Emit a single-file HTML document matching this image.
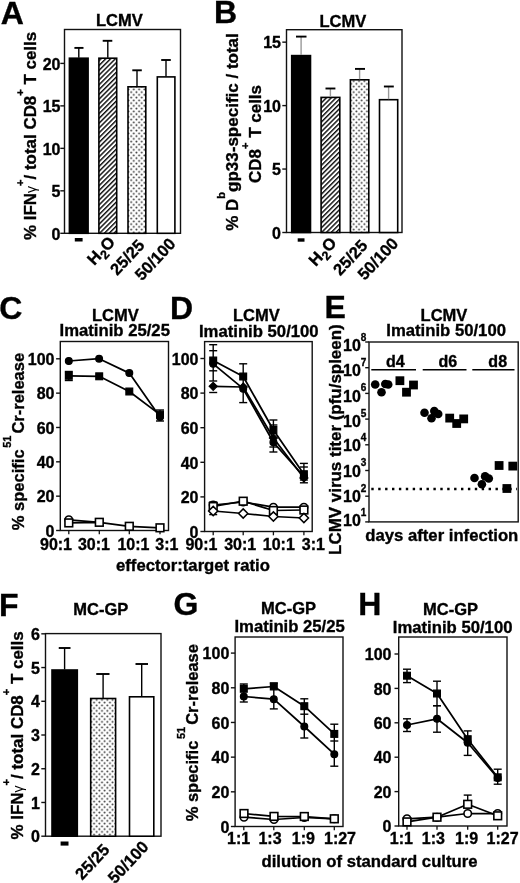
<!DOCTYPE html>
<html><head><meta charset="utf-8"><style>html,body{margin:0;padding:0;background:#fff;overflow:hidden}svg{display:block;filter:blur(0.3px)}text{font-family:"Liberation Sans",sans-serif;font-weight:bold;fill:#000;stroke:#000;stroke-width:0.35px}</style></head><body>
<svg width="520" height="883" viewBox="0 0 520 883">
<defs>
<pattern id="hatch" patternUnits="userSpaceOnUse" width="3.4" height="3.4" patternTransform="rotate(45)"><rect width="3.4" height="3.4" fill="#fff"/><rect x="0" y="0" width="1.45" height="3.4" fill="#111"/></pattern>
<pattern id="dots" patternUnits="userSpaceOnUse" width="5.3" height="5.5"><rect width="5.3" height="5.5" fill="#fff"/><circle cx="1.3" cy="1.3" r="0.95" fill="#333"/><circle cx="3.95" cy="4.05" r="0.95" fill="#333"/></pattern>
</defs>
<rect width="520" height="883" fill="#fff"/>
<text x="0.8" y="23.5" font-size="32">A</text>
<text x="119.4" y="26.2" font-size="16.5" text-anchor="middle" >LCMV</text>
<rect x="64.5" y="29.5" width="116.00" height="203.80" fill="none" stroke="#111" stroke-width="1.4"/>
<line x1="60.3" y1="233.30" x2="64.5" y2="233.30" stroke="#111" stroke-width="1.4"/>
<text x="60.5" y="239.50" font-size="16" text-anchor="end">0</text>
<line x1="60.3" y1="190.83" x2="64.5" y2="190.83" stroke="#111" stroke-width="1.4"/>
<text x="60.5" y="197.03" font-size="16" text-anchor="end">5</text>
<line x1="60.3" y1="148.35" x2="64.5" y2="148.35" stroke="#111" stroke-width="1.4"/>
<text x="60.5" y="154.55" font-size="16" text-anchor="end">10</text>
<line x1="60.3" y1="105.88" x2="64.5" y2="105.88" stroke="#111" stroke-width="1.4"/>
<text x="60.5" y="112.08" font-size="16" text-anchor="end">15</text>
<line x1="60.3" y1="63.40" x2="64.5" y2="63.40" stroke="#111" stroke-width="1.4"/>
<text x="60.5" y="69.60" font-size="16" text-anchor="end">20</text>
<rect x="69.40" y="58.20" width="18.70" height="175.10" fill="#000" stroke="#000" stroke-width="1.6"/>
<rect x="98.90" y="58.20" width="17.80" height="175.10" fill="url(#hatch)" stroke="#000" stroke-width="1.6"/>
<rect x="128.00" y="86.80" width="17.80" height="146.50" fill="url(#dots)" stroke="#000" stroke-width="1.6"/>
<rect x="157.30" y="76.90" width="17.60" height="156.40" fill="#fff" stroke="#000" stroke-width="1.6"/>
<line x1="78.8" y1="57.7" x2="78.8" y2="47.9" stroke="#000" stroke-width="1.4"/>
<line x1="74.4" y1="47.9" x2="83.5" y2="47.9" stroke="#000" stroke-width="1.9"/>
<line x1="107.8" y1="57.7" x2="107.8" y2="40.8" stroke="#000" stroke-width="1.4"/>
<line x1="102.7" y1="40.8" x2="112.3" y2="40.8" stroke="#000" stroke-width="1.9"/>
<line x1="137.0" y1="86.3" x2="137.0" y2="70.3" stroke="#000" stroke-width="1.4"/>
<line x1="132.3" y1="70.3" x2="141.8" y2="70.3" stroke="#000" stroke-width="1.9"/>
<line x1="166.0" y1="76.4" x2="166.0" y2="60.0" stroke="#000" stroke-width="1.4"/>
<line x1="161.2" y1="60.0" x2="170.8" y2="60.0" stroke="#000" stroke-width="1.9"/>
<text transform="translate(35.8,135.9) rotate(-90)" font-size="16.95" text-anchor="middle">% IFN<tspan font-weight="normal" font-size="14" style="stroke-width:0">γ</tspan><tspan font-size="11" dy="-12.3">+</tspan><tspan dy="12.3">​</tspan>/ total CD8<tspan font-size="11" dy="-12.3">+</tspan><tspan dy="12.3">​</tspan> T cells</text>
<rect x="74.8" y="238" width="7.8" height="3.5" fill="#000"/>
<text transform="translate(116.0,242.8) rotate(-47)" font-size="16.5" text-anchor="end">H<tspan font-size="12.5" dy="4">2</tspan><tspan dy="-4">O</tspan></text>
<text transform="translate(145.5,246.0) rotate(-47)" font-size="16.5" text-anchor="end">25/25</text>
<text transform="translate(176.5,244.5) rotate(-47)" font-size="16.5" text-anchor="end">50/100</text>
<text x="214.0" y="23.1" font-size="32">B</text>
<text x="342.8" y="26.6" font-size="16.5" text-anchor="middle" >LCMV</text>
<rect x="286.5" y="29.7" width="115.50" height="202.80" fill="none" stroke="#111" stroke-width="1.4"/>
<line x1="282.3" y1="232.50" x2="286.5" y2="232.50" stroke="#111" stroke-width="1.4"/>
<text x="281" y="238.70" font-size="16" text-anchor="end">0</text>
<line x1="282.3" y1="169.05" x2="286.5" y2="169.05" stroke="#111" stroke-width="1.4"/>
<text x="281" y="175.25" font-size="16" text-anchor="end">5</text>
<line x1="282.3" y1="105.60" x2="286.5" y2="105.60" stroke="#111" stroke-width="1.4"/>
<text x="281" y="111.80" font-size="16" text-anchor="end">10</text>
<line x1="282.3" y1="42.15" x2="286.5" y2="42.15" stroke="#111" stroke-width="1.4"/>
<text x="281" y="48.35" font-size="16" text-anchor="end">15</text>
<rect x="291.70" y="55.60" width="18.80" height="176.90" fill="#000" stroke="#000" stroke-width="1.6"/>
<rect x="321.10" y="97.40" width="18.70" height="135.10" fill="url(#hatch)" stroke="#000" stroke-width="1.6"/>
<rect x="350.40" y="79.80" width="18.40" height="152.70" fill="url(#dots)" stroke="#000" stroke-width="1.6"/>
<rect x="379.50" y="99.70" width="18.20" height="132.80" fill="#fff" stroke="#000" stroke-width="1.6"/>
<line x1="301.1" y1="55.1" x2="301.1" y2="36.6" stroke="#999" stroke-width="1.4"/>
<line x1="296.0" y1="36.6" x2="306.5" y2="36.6" stroke="#000" stroke-width="1.9"/>
<line x1="330.4" y1="96.9" x2="330.4" y2="88.5" stroke="#999" stroke-width="1.4"/>
<line x1="325.5" y1="88.5" x2="335.4" y2="88.5" stroke="#000" stroke-width="1.9"/>
<line x1="359.6" y1="79.3" x2="359.6" y2="68.9" stroke="#999" stroke-width="1.4"/>
<line x1="355.0" y1="68.9" x2="365.0" y2="68.9" stroke="#000" stroke-width="1.9"/>
<line x1="388.6" y1="99.2" x2="388.6" y2="86.5" stroke="#999" stroke-width="1.4"/>
<line x1="383.9" y1="86.5" x2="393.8" y2="86.5" stroke="#000" stroke-width="1.9"/>
<text transform="translate(238.4,132) rotate(-90)" font-size="17" text-anchor="middle">% D<tspan font-size="11" dy="-13.4">b</tspan><tspan dy="13.4">​</tspan>gp33-specific / total</text>
<text transform="translate(261.1,134.0) rotate(-90)" font-size="17" text-anchor="middle">CD8<tspan font-size="11" dy="-12.3">+</tspan><tspan dy="12.3">​</tspan> T cells</text>
<rect x="297.7" y="238.3" width="6.8" height="3.4" fill="#000"/>
<text transform="translate(337.5,243.7) rotate(-47)" font-size="16.5" text-anchor="end">H<tspan font-size="12.5" dy="4">2</tspan><tspan dy="-4">O</tspan></text>
<text transform="translate(368.5,246.3) rotate(-47)" font-size="16.5" text-anchor="end">25/25</text>
<text transform="translate(399.2,244.2) rotate(-47)" font-size="16.5" text-anchor="end">50/100</text>
<text x="-0.7" y="319.2" font-size="32">C</text>
<text x="115.4" y="320.6" font-size="16.5" text-anchor="middle" >LCMV</text>
<text x="114.75" y="336.3" font-size="16.7" text-anchor="middle" >Imatinib 25/25</text>
<rect x="60.3" y="341.5" width="108.20" height="189.00" fill="none" stroke="#111" stroke-width="1.4"/>
<line x1="56.099999999999994" y1="530.50" x2="60.3" y2="530.50" stroke="#111" stroke-width="1.4"/>
<text x="54.5" y="536.70" font-size="16" text-anchor="end">0</text>
<line x1="56.099999999999994" y1="496.16" x2="60.3" y2="496.16" stroke="#111" stroke-width="1.4"/>
<text x="54.5" y="502.36" font-size="16" text-anchor="end">20</text>
<line x1="56.099999999999994" y1="461.82" x2="60.3" y2="461.82" stroke="#111" stroke-width="1.4"/>
<text x="54.5" y="468.02" font-size="16" text-anchor="end">40</text>
<line x1="56.099999999999994" y1="427.48" x2="60.3" y2="427.48" stroke="#111" stroke-width="1.4"/>
<text x="54.5" y="433.68" font-size="16" text-anchor="end">60</text>
<line x1="56.099999999999994" y1="393.14" x2="60.3" y2="393.14" stroke="#111" stroke-width="1.4"/>
<text x="54.5" y="399.34" font-size="16" text-anchor="end">80</text>
<line x1="56.099999999999994" y1="358.80" x2="60.3" y2="358.80" stroke="#111" stroke-width="1.4"/>
<text x="54.5" y="365.00" font-size="16" text-anchor="end">100</text>
<line x1="68.8" y1="530.5" x2="68.8" y2="534.3" stroke="#111" stroke-width="1.3"/>
<line x1="99.3" y1="530.5" x2="99.3" y2="534.3" stroke="#111" stroke-width="1.3"/>
<line x1="129.3" y1="530.5" x2="129.3" y2="534.3" stroke="#111" stroke-width="1.3"/>
<line x1="160.0" y1="530.5" x2="160.0" y2="534.3" stroke="#111" stroke-width="1.3"/>
<text x="56" y="549.8" font-size="16" text-anchor="middle" >90:1</text>
<text x="93.9" y="549.8" font-size="16" text-anchor="middle" >30:1</text>
<text x="133.4" y="549.8" font-size="16" text-anchor="middle" >10:1</text>
<text x="166.9" y="549.8" font-size="16" text-anchor="middle" >3:1</text>
<text transform="translate(23.7,441.5) rotate(-90)" font-size="16.5" text-anchor="middle">% specific<tspan font-size="11" dx="1.6" dy="-12.6">51</tspan><tspan dx="2" dy="12.6">Cr-release</tspan></text>
<line x1="68.8" y1="371.5" x2="68.8" y2="380.5" stroke="#000" stroke-width="1.4"/>
<line x1="64.8" y1="371.5" x2="72.8" y2="371.5" stroke="#000" stroke-width="1.4"/>
<line x1="64.8" y1="380.5" x2="72.8" y2="380.5" stroke="#000" stroke-width="1.4"/>
<line x1="160" y1="410" x2="160" y2="421" stroke="#000" stroke-width="1.4"/>
<line x1="156.0" y1="410" x2="164.0" y2="410" stroke="#000" stroke-width="1.4"/>
<line x1="156.0" y1="421" x2="164.0" y2="421" stroke="#000" stroke-width="1.4"/>
<polyline points="68.8,361.0 99.1,358.7 129.3,373.1 160,416.9" fill="none" stroke="#000" stroke-width="1.75" stroke-linejoin="round"/>
<polyline points="68.8,375.8 99.2,376.3 129.3,391.5 160,414.6" fill="none" stroke="#000" stroke-width="1.75" stroke-linejoin="round"/>
<circle cx="68.8" cy="361.0" r="3.4" fill="#000" stroke="#000" stroke-width="1.2"/>
<circle cx="99.1" cy="358.7" r="3.4" fill="#000" stroke="#000" stroke-width="1.2"/>
<circle cx="129.3" cy="373.1" r="3.4" fill="#000" stroke="#000" stroke-width="1.2"/>
<circle cx="160" cy="416.9" r="3.4" fill="#000" stroke="#000" stroke-width="1.2"/>
<rect x="65.40" y="372.40" width="6.8" height="6.8" fill="#000" stroke="#000" stroke-width="1.2"/>
<rect x="95.80" y="372.90" width="6.8" height="6.8" fill="#000" stroke="#000" stroke-width="1.2"/>
<rect x="125.90" y="388.10" width="6.8" height="6.8" fill="#000" stroke="#000" stroke-width="1.2"/>
<rect x="156.60" y="411.20" width="6.8" height="6.8" fill="#000" stroke="#000" stroke-width="1.2"/>
<polyline points="68.8,519.8 99.3,522.3" fill="none" stroke="#000" stroke-width="1.75" stroke-linejoin="round"/>
<polyline points="68.8,522.9 99.3,522.3 129.3,526.3 160,527.8" fill="none" stroke="#000" stroke-width="1.75" stroke-linejoin="round"/>
<circle cx="68.8" cy="519.8" r="3.75" fill="#fff" stroke="#000" stroke-width="1.6"/>
<rect x="64.95" y="519.05" width="7.7" height="7.7" fill="#fff" stroke="#000" stroke-width="1.6"/>
<rect x="95.45" y="518.45" width="7.7" height="7.7" fill="#fff" stroke="#000" stroke-width="1.6"/>
<rect x="125.45" y="522.45" width="7.7" height="7.7" fill="#fff" stroke="#000" stroke-width="1.6"/>
<rect x="156.15" y="523.95" width="7.7" height="7.7" fill="#fff" stroke="#000" stroke-width="1.6"/>
<text x="193" y="571.3" font-size="16.7" text-anchor="middle" >effector:target ratio</text>
<text x="170.1" y="319.2" font-size="32">D</text>
<text x="256.35" y="320.8" font-size="16.5" text-anchor="middle" >LCMV</text>
<text x="258.8" y="336.9" font-size="16.7" text-anchor="middle" >Imatinib 50/100</text>
<rect x="204.6" y="341.6" width="107.60" height="189.90" fill="none" stroke="#111" stroke-width="1.4"/>
<line x1="200.4" y1="531.50" x2="204.6" y2="531.50" stroke="#111" stroke-width="1.4"/>
<text x="198.5" y="537.70" font-size="16" text-anchor="end">0</text>
<line x1="200.4" y1="496.90" x2="204.6" y2="496.90" stroke="#111" stroke-width="1.4"/>
<text x="198.5" y="503.10" font-size="16" text-anchor="end">20</text>
<line x1="200.4" y1="462.30" x2="204.6" y2="462.30" stroke="#111" stroke-width="1.4"/>
<text x="198.5" y="468.50" font-size="16" text-anchor="end">40</text>
<line x1="200.4" y1="427.70" x2="204.6" y2="427.70" stroke="#111" stroke-width="1.4"/>
<text x="198.5" y="433.90" font-size="16" text-anchor="end">60</text>
<line x1="200.4" y1="393.10" x2="204.6" y2="393.10" stroke="#111" stroke-width="1.4"/>
<text x="198.5" y="399.30" font-size="16" text-anchor="end">80</text>
<line x1="200.4" y1="358.50" x2="204.6" y2="358.50" stroke="#111" stroke-width="1.4"/>
<text x="198.5" y="364.70" font-size="16" text-anchor="end">100</text>
<line x1="213.2" y1="531.5" x2="213.2" y2="535.3" stroke="#111" stroke-width="1.3"/>
<line x1="243.2" y1="531.5" x2="243.2" y2="535.3" stroke="#111" stroke-width="1.3"/>
<line x1="273.4" y1="531.5" x2="273.4" y2="535.3" stroke="#111" stroke-width="1.3"/>
<line x1="303.9" y1="531.5" x2="303.9" y2="535.3" stroke="#111" stroke-width="1.3"/>
<text x="201.4" y="549.5" font-size="16" text-anchor="middle" >90:1</text>
<text x="240.2" y="549.5" font-size="16" text-anchor="middle" >30:1</text>
<text x="278.8" y="549.5" font-size="16" text-anchor="middle" >10:1</text>
<text x="313.4" y="549.5" font-size="16" text-anchor="middle" >3:1</text>
<line x1="213.2" y1="344.7" x2="213.2" y2="381.0" stroke="#000" stroke-width="1.4"/>
<line x1="209.2" y1="344.7" x2="217.2" y2="344.7" stroke="#000" stroke-width="1.4"/>
<line x1="209.2" y1="381.0" x2="217.2" y2="381.0" stroke="#000" stroke-width="1.4"/>
<line x1="209.2" y1="350.7" x2="217.2" y2="350.7" stroke="#000" stroke-width="1.4"/>
<line x1="209.2" y1="370.8" x2="217.2" y2="370.8" stroke="#000" stroke-width="1.4"/>
<line x1="209.2" y1="392.5" x2="217.2" y2="392.5" stroke="#000" stroke-width="1.4"/>
<line x1="243.2" y1="363.8" x2="243.2" y2="402.6" stroke="#000" stroke-width="1.4"/>
<line x1="239.2" y1="363.8" x2="247.2" y2="363.8" stroke="#000" stroke-width="1.4"/>
<line x1="239.2" y1="402.6" x2="247.2" y2="402.6" stroke="#000" stroke-width="1.4"/>
<line x1="273.4" y1="420.0" x2="273.4" y2="452.0" stroke="#000" stroke-width="1.4"/>
<line x1="269.4" y1="420.0" x2="277.4" y2="420.0" stroke="#000" stroke-width="1.4"/>
<line x1="269.4" y1="452.0" x2="277.4" y2="452.0" stroke="#000" stroke-width="1.4"/>
<line x1="269.4" y1="425.0" x2="277.4" y2="425.0" stroke="#000" stroke-width="1.4"/>
<line x1="269.4" y1="447" x2="277.4" y2="447" stroke="#000" stroke-width="1.4"/>
<line x1="303.9" y1="463.4" x2="303.9" y2="482.8" stroke="#000" stroke-width="1.4"/>
<line x1="299.9" y1="463.4" x2="307.9" y2="463.4" stroke="#000" stroke-width="1.4"/>
<line x1="299.9" y1="482.8" x2="307.9" y2="482.8" stroke="#000" stroke-width="1.4"/>
<line x1="299.9" y1="467" x2="307.9" y2="467" stroke="#000" stroke-width="1.4"/>
<line x1="299.9" y1="480" x2="307.9" y2="480" stroke="#000" stroke-width="1.4"/>
<polyline points="213.2,360.5 243.2,376.5 273.4,430.0 303.9,474.2" fill="none" stroke="#000" stroke-width="1.75" stroke-linejoin="round"/>
<polyline points="213.2,363.8 243.2,388.7 273.4,442.3 303.9,476.5" fill="none" stroke="#000" stroke-width="1.75" stroke-linejoin="round"/>
<polyline points="213.2,386.3 243.2,387.0 273.4,438 303.9,478" fill="none" stroke="#000" stroke-width="1.75" stroke-linejoin="round"/>
<rect x="209.80" y="357.10" width="6.8" height="6.8" fill="#000" stroke="#000" stroke-width="1.2"/>
<rect x="239.80" y="373.10" width="6.8" height="6.8" fill="#000" stroke="#000" stroke-width="1.2"/>
<rect x="270.00" y="426.60" width="6.8" height="6.8" fill="#000" stroke="#000" stroke-width="1.2"/>
<rect x="300.50" y="470.80" width="6.8" height="6.8" fill="#000" stroke="#000" stroke-width="1.2"/>
<path d="M213.2,382.30 L217.20,386.3 L213.2,390.30 L209.20,386.3 Z" fill="#000" stroke="#000" stroke-width="1.2"/>
<path d="M243.2,383.00 L247.20,387.0 L243.2,391.00 L239.20,387.0 Z" fill="#000" stroke="#000" stroke-width="1.2"/>
<path d="M273.4,434.00 L277.40,438 L273.4,442.00 L269.40,438 Z" fill="#000" stroke="#000" stroke-width="1.2"/>
<path d="M303.9,474.00 L307.90,478 L303.9,482.00 L299.90,478 Z" fill="#000" stroke="#000" stroke-width="1.2"/>
<circle cx="213.2" cy="363.8" r="3.4" fill="#000" stroke="#000" stroke-width="1.2"/>
<circle cx="243.2" cy="388.7" r="3.4" fill="#000" stroke="#000" stroke-width="1.2"/>
<circle cx="273.4" cy="442.3" r="3.4" fill="#000" stroke="#000" stroke-width="1.2"/>
<circle cx="303.9" cy="476.5" r="3.4" fill="#000" stroke="#000" stroke-width="1.2"/>
<line x1="213.2" y1="502" x2="213.2" y2="514.6" stroke="#000" stroke-width="1.4"/>
<line x1="209.2" y1="502" x2="217.2" y2="502" stroke="#000" stroke-width="1.4"/>
<line x1="209.2" y1="514.6" x2="217.2" y2="514.6" stroke="#000" stroke-width="1.4"/>
<polyline points="213.2,506.5 243.2,501.2 273.4,510.5 303.9,510.0" fill="none" stroke="#000" stroke-width="1.75" stroke-linejoin="round"/>
<polyline points="213.2,505.0 243.2,502.0 273.4,507.2 303.9,507.2" fill="none" stroke="#000" stroke-width="1.75" stroke-linejoin="round"/>
<polyline points="213.2,511.0 243.2,513.5 273.4,516.5 303.9,518.0" fill="none" stroke="#000" stroke-width="1.75" stroke-linejoin="round"/>
<circle cx="213.2" cy="505.0" r="3.75" fill="#fff" stroke="#000" stroke-width="1.6"/>
<circle cx="243.2" cy="502.0" r="3.75" fill="#fff" stroke="#000" stroke-width="1.6"/>
<circle cx="273.4" cy="507.2" r="3.75" fill="#fff" stroke="#000" stroke-width="1.6"/>
<circle cx="303.9" cy="507.2" r="3.75" fill="#fff" stroke="#000" stroke-width="1.6"/>
<rect x="209.35" y="502.65" width="7.7" height="7.7" fill="#fff" stroke="#000" stroke-width="1.6"/>
<rect x="239.35" y="497.35" width="7.7" height="7.7" fill="#fff" stroke="#000" stroke-width="1.6"/>
<rect x="269.55" y="506.65" width="7.7" height="7.7" fill="#fff" stroke="#000" stroke-width="1.6"/>
<rect x="300.05" y="506.15" width="7.7" height="7.7" fill="#fff" stroke="#000" stroke-width="1.6"/>
<path d="M213.2,506.40 L217.80,511.0 L213.2,515.60 L208.60,511.0 Z" fill="#fff" stroke="#000" stroke-width="1.5"/>
<path d="M243.2,508.90 L247.80,513.5 L243.2,518.10 L238.60,513.5 Z" fill="#fff" stroke="#000" stroke-width="1.5"/>
<path d="M273.4,511.90 L278.00,516.5 L273.4,521.10 L268.80,516.5 Z" fill="#fff" stroke="#000" stroke-width="1.5"/>
<path d="M303.9,513.40 L308.50,518.0 L303.9,522.60 L299.30,518.0 Z" fill="#fff" stroke="#000" stroke-width="1.5"/>
<text x="324.4" y="318.0" font-size="32">E</text>
<text x="443.95" y="320.8" font-size="16.5" text-anchor="middle" >LCMV</text>
<text x="446.15" y="336.2" font-size="16.7" text-anchor="middle" >Imatinib 50/100</text>
<rect x="369.0" y="342.0" width="149.20" height="179.90" fill="none" stroke="#111" stroke-width="1.4"/>
<line x1="365.2" y1="342.00" x2="369.0" y2="342.00" stroke="#111" stroke-width="1.4"/>
<text x="360.8" y="350.90" font-size="16" text-anchor="end">10</text>
<text x="366.2" y="340.50" font-size="10" text-anchor="end">8</text>
<line x1="365.2" y1="367.70" x2="369.0" y2="367.70" stroke="#111" stroke-width="1.4"/>
<text x="360.8" y="376.10" font-size="16" text-anchor="end">10</text>
<text x="366.2" y="365.70" font-size="10" text-anchor="end">7</text>
<line x1="365.2" y1="393.40" x2="369.0" y2="393.40" stroke="#111" stroke-width="1.4"/>
<text x="360.8" y="401.60" font-size="16" text-anchor="end">10</text>
<text x="366.2" y="391.20" font-size="10" text-anchor="end">6</text>
<line x1="365.2" y1="419.10" x2="369.0" y2="419.10" stroke="#111" stroke-width="1.4"/>
<text x="360.8" y="427.10" font-size="16" text-anchor="end">10</text>
<text x="366.2" y="416.70" font-size="10" text-anchor="end">5</text>
<line x1="365.2" y1="444.80" x2="369.0" y2="444.80" stroke="#111" stroke-width="1.4"/>
<text x="360.8" y="451.20" font-size="16" text-anchor="end">10</text>
<text x="366.2" y="440.80" font-size="10" text-anchor="end">4</text>
<line x1="365.2" y1="470.50" x2="369.0" y2="470.50" stroke="#111" stroke-width="1.4"/>
<text x="360.8" y="476.80" font-size="16" text-anchor="end">10</text>
<text x="366.2" y="466.40" font-size="10" text-anchor="end">3</text>
<line x1="365.2" y1="496.20" x2="369.0" y2="496.20" stroke="#111" stroke-width="1.4"/>
<text x="360.8" y="502.40" font-size="16" text-anchor="end">10</text>
<text x="366.2" y="492.00" font-size="10" text-anchor="end">2</text>
<line x1="365.2" y1="521.90" x2="369.0" y2="521.90" stroke="#111" stroke-width="1.4"/>
<text x="360.8" y="525.90" font-size="16" text-anchor="end">10</text>
<text x="366.2" y="515.50" font-size="10" text-anchor="end">1</text>
<text transform="translate(340.8,439.6) rotate(-90)" font-size="16.94" text-anchor="middle">LCMV virus titer (pfu/spleen)</text>
<text x="441.8" y="541.3" font-size="16.7" text-anchor="middle" >days after infection</text>
<line x1="371.3" y1="369.7" x2="416.0" y2="369.7" stroke="#000" stroke-width="1.5"/>
<text x="395.3" y="366.7" font-size="16" text-anchor="middle" >d4</text>
<line x1="422.7" y1="369.7" x2="466.5" y2="369.7" stroke="#000" stroke-width="1.5"/>
<text x="447.9" y="366.7" font-size="16" text-anchor="middle" >d6</text>
<line x1="472.3" y1="369.7" x2="514.5" y2="369.7" stroke="#000" stroke-width="1.5"/>
<text x="497.7" y="366.7" font-size="16" text-anchor="middle" >d8</text>
<line x1="371.3" y1="489.0" x2="517" y2="489.0" stroke="#000" stroke-width="2.4" stroke-dasharray="2.4 4.5"/>
<circle cx="375.2" cy="384.5" r="4.3" fill="#000"/>
<circle cx="381.5" cy="392.2" r="4.3" fill="#000"/>
<circle cx="385.3" cy="384" r="4.3" fill="#000"/>
<circle cx="388.2" cy="384.5" r="4.3" fill="#000"/>
<circle cx="424.5" cy="412.8" r="4.3" fill="#000"/>
<circle cx="431.5" cy="418.3" r="4.3" fill="#000"/>
<circle cx="434.3" cy="411.1" r="4.3" fill="#000"/>
<circle cx="438.2" cy="414" r="4.3" fill="#000"/>
<circle cx="474.5" cy="478" r="4.3" fill="#000"/>
<circle cx="481.9" cy="484.3" r="4.3" fill="#000"/>
<circle cx="485.1" cy="476.4" r="4.3" fill="#000"/>
<circle cx="488.8" cy="478.5" r="4.3" fill="#000"/>
<rect x="395.50" y="376.30" width="8.8" height="8.8" fill="#000"/>
<rect x="402.10" y="387.80" width="8.8" height="8.8" fill="#000"/>
<rect x="409.10" y="380.60" width="8.8" height="8.8" fill="#000"/>
<rect x="445.30" y="413.70" width="8.8" height="8.8" fill="#000"/>
<rect x="452.30" y="419.10" width="8.8" height="8.8" fill="#000"/>
<rect x="459.30" y="414.50" width="8.8" height="8.8" fill="#000"/>
<rect x="494.70" y="461.10" width="8.8" height="8.8" fill="#000"/>
<rect x="502.50" y="484.10" width="8.8" height="8.8" fill="#000"/>
<rect x="508.40" y="461.70" width="8.8" height="8.8" fill="#000"/>
<text x="-1.0" y="616.0" font-size="32">F</text>
<text x="100.85" y="614.5" font-size="16.5" text-anchor="middle" >MC-GP</text>
<rect x="45.5" y="633.6" width="115.50" height="202.60" fill="none" stroke="#111" stroke-width="1.4"/>
<line x1="41.3" y1="836.20" x2="45.5" y2="836.20" stroke="#111" stroke-width="1.4"/>
<text x="40" y="842.40" font-size="16" text-anchor="end">0</text>
<line x1="41.3" y1="802.47" x2="45.5" y2="802.47" stroke="#111" stroke-width="1.4"/>
<text x="40" y="808.67" font-size="16" text-anchor="end">1</text>
<line x1="41.3" y1="768.74" x2="45.5" y2="768.74" stroke="#111" stroke-width="1.4"/>
<text x="40" y="774.94" font-size="16" text-anchor="end">2</text>
<line x1="41.3" y1="735.01" x2="45.5" y2="735.01" stroke="#111" stroke-width="1.4"/>
<text x="40" y="741.21" font-size="16" text-anchor="end">3</text>
<line x1="41.3" y1="701.28" x2="45.5" y2="701.28" stroke="#111" stroke-width="1.4"/>
<text x="40" y="707.48" font-size="16" text-anchor="end">4</text>
<line x1="41.3" y1="667.55" x2="45.5" y2="667.55" stroke="#111" stroke-width="1.4"/>
<text x="40" y="673.75" font-size="16" text-anchor="end">5</text>
<line x1="41.3" y1="633.82" x2="45.5" y2="633.82" stroke="#111" stroke-width="1.4"/>
<text x="40" y="640.02" font-size="16" text-anchor="end">6</text>
<rect x="52.00" y="670.00" width="25.30" height="166.20" fill="#000" stroke="#000" stroke-width="1.6"/>
<rect x="90.70" y="698.50" width="24.90" height="137.70" fill="url(#dots)" stroke="#000" stroke-width="1.6"/>
<rect x="129.50" y="696.80" width="24.30" height="139.40" fill="#fff" stroke="#000" stroke-width="1.6"/>
<line x1="64.6" y1="669.5" x2="64.6" y2="648.0" stroke="#000" stroke-width="1.4"/>
<line x1="58.75" y1="648.0" x2="70.5" y2="648.0" stroke="#000" stroke-width="1.9"/>
<line x1="103.1" y1="698.0" x2="103.1" y2="674.0" stroke="#000" stroke-width="1.4"/>
<line x1="96.25" y1="674.0" x2="109.5" y2="674.0" stroke="#000" stroke-width="1.9"/>
<line x1="141.7" y1="696.3" x2="141.7" y2="664.0" stroke="#000" stroke-width="1.4"/>
<line x1="135.5" y1="664.0" x2="148.0" y2="664.0" stroke="#000" stroke-width="1.9"/>
<text transform="translate(22.6,735.4) rotate(-90)" font-size="16.95" text-anchor="middle">% IFN<tspan font-weight="normal" font-size="14" style="stroke-width:0">γ</tspan><tspan font-size="11" dy="-12.3">+</tspan><tspan dy="12.3">​</tspan>/ total CD8<tspan font-size="11" dy="-12.3">+</tspan><tspan dy="12.3">​</tspan> T cells</text>
<rect x="60.6" y="841.5" width="7.9" height="4.1" fill="#000"/>
<text transform="translate(110.5,850.5) rotate(-47)" font-size="16.5" text-anchor="end">25/25</text>
<text transform="translate(149.5,847.5) rotate(-47)" font-size="16.5" text-anchor="end">50/100</text>
<text x="173.4" y="614.5" font-size="32">G</text>
<text x="288.55" y="614.4" font-size="16.5" text-anchor="middle" >MC-GP</text>
<text x="289.65" y="631.8" font-size="16.7" text-anchor="middle" >Imatinib 25/25</text>
<rect x="235.1" y="637.0" width="107.90" height="189.50" fill="none" stroke="#111" stroke-width="1.4"/>
<line x1="230.9" y1="826.50" x2="235.1" y2="826.50" stroke="#111" stroke-width="1.4"/>
<text x="229.3" y="832.70" font-size="16" text-anchor="end">0</text>
<line x1="230.9" y1="791.82" x2="235.1" y2="791.82" stroke="#111" stroke-width="1.4"/>
<text x="229.3" y="798.02" font-size="16" text-anchor="end">20</text>
<line x1="230.9" y1="757.14" x2="235.1" y2="757.14" stroke="#111" stroke-width="1.4"/>
<text x="229.3" y="763.34" font-size="16" text-anchor="end">40</text>
<line x1="230.9" y1="722.46" x2="235.1" y2="722.46" stroke="#111" stroke-width="1.4"/>
<text x="229.3" y="728.66" font-size="16" text-anchor="end">60</text>
<line x1="230.9" y1="687.78" x2="235.1" y2="687.78" stroke="#111" stroke-width="1.4"/>
<text x="229.3" y="693.98" font-size="16" text-anchor="end">80</text>
<line x1="230.9" y1="653.10" x2="235.1" y2="653.10" stroke="#111" stroke-width="1.4"/>
<text x="229.3" y="659.30" font-size="16" text-anchor="end">100</text>
<line x1="243.8" y1="826.5" x2="243.8" y2="830.3" stroke="#111" stroke-width="1.3"/>
<line x1="273.8" y1="826.5" x2="273.8" y2="830.3" stroke="#111" stroke-width="1.3"/>
<line x1="304.3" y1="826.5" x2="304.3" y2="830.3" stroke="#111" stroke-width="1.3"/>
<line x1="334.3" y1="826.5" x2="334.3" y2="830.3" stroke="#111" stroke-width="1.3"/>
<text x="238.6" y="844.2" font-size="16" text-anchor="middle" >1:1</text>
<text x="270.0" y="844.2" font-size="16" text-anchor="middle" >1:3</text>
<text x="303.4" y="844.2" font-size="16" text-anchor="middle" >1:9</text>
<text x="340.0" y="844.2" font-size="16" text-anchor="middle" >1:27</text>
<line x1="243.8" y1="684" x2="243.8" y2="702" stroke="#000" stroke-width="1.4"/>
<line x1="239.8" y1="684" x2="247.8" y2="684" stroke="#000" stroke-width="1.4"/>
<line x1="239.8" y1="702" x2="247.8" y2="702" stroke="#000" stroke-width="1.4"/>
<line x1="273.8" y1="683" x2="273.8" y2="708.9" stroke="#000" stroke-width="1.4"/>
<line x1="269.8" y1="683" x2="277.8" y2="683" stroke="#000" stroke-width="1.4"/>
<line x1="269.8" y1="708.9" x2="277.8" y2="708.9" stroke="#000" stroke-width="1.4"/>
<line x1="304.3" y1="698.8" x2="304.3" y2="738" stroke="#000" stroke-width="1.4"/>
<line x1="300.3" y1="698.8" x2="308.3" y2="698.8" stroke="#000" stroke-width="1.4"/>
<line x1="300.3" y1="738" x2="308.3" y2="738" stroke="#000" stroke-width="1.4"/>
<line x1="300.3" y1="714.2" x2="308.3" y2="714.2" stroke="#000" stroke-width="1.4"/>
<line x1="334.3" y1="724.2" x2="334.3" y2="766.2" stroke="#000" stroke-width="1.4"/>
<line x1="330.3" y1="724.2" x2="338.3" y2="724.2" stroke="#000" stroke-width="1.4"/>
<line x1="330.3" y1="766.2" x2="338.3" y2="766.2" stroke="#000" stroke-width="1.4"/>
<line x1="330.3" y1="741" x2="338.3" y2="741" stroke="#000" stroke-width="1.4"/>
<polyline points="243.8,688.8 273.8,686.5 304.3,706.2 334.3,733.9" fill="none" stroke="#000" stroke-width="1.75" stroke-linejoin="round"/>
<polyline points="243.8,696.5 273.8,699.2 304.3,726.5 334.3,754.2" fill="none" stroke="#000" stroke-width="1.75" stroke-linejoin="round"/>
<rect x="240.40" y="685.40" width="6.8" height="6.8" fill="#000" stroke="#000" stroke-width="1.2"/>
<rect x="270.40" y="683.10" width="6.8" height="6.8" fill="#000" stroke="#000" stroke-width="1.2"/>
<rect x="300.90" y="702.80" width="6.8" height="6.8" fill="#000" stroke="#000" stroke-width="1.2"/>
<rect x="330.90" y="730.50" width="6.8" height="6.8" fill="#000" stroke="#000" stroke-width="1.2"/>
<circle cx="243.8" cy="696.5" r="3.4" fill="#000" stroke="#000" stroke-width="1.2"/>
<circle cx="273.8" cy="699.2" r="3.4" fill="#000" stroke="#000" stroke-width="1.2"/>
<circle cx="304.3" cy="726.5" r="3.4" fill="#000" stroke="#000" stroke-width="1.2"/>
<circle cx="334.3" cy="754.2" r="3.4" fill="#000" stroke="#000" stroke-width="1.2"/>
<polyline points="244.0,813.5 274.0,816.4 304.3,816.5 334.3,818.8" fill="none" stroke="#000" stroke-width="1.75" stroke-linejoin="round"/>
<polyline points="244.0,817.2 274.0,819.5 304.3,817.5 334.3,818.8" fill="none" stroke="#000" stroke-width="1.75" stroke-linejoin="round"/>
<circle cx="244.0" cy="817.2" r="3.75" fill="#fff" stroke="#000" stroke-width="1.6"/>
<circle cx="274.0" cy="819.5" r="3.75" fill="#fff" stroke="#000" stroke-width="1.6"/>
<circle cx="304.3" cy="817.5" r="3.75" fill="#fff" stroke="#000" stroke-width="1.6"/>
<circle cx="334.3" cy="818.8" r="3.75" fill="#fff" stroke="#000" stroke-width="1.6"/>
<rect x="240.15" y="809.65" width="7.7" height="7.7" fill="#fff" stroke="#000" stroke-width="1.6"/>
<rect x="270.15" y="812.55" width="7.7" height="7.7" fill="#fff" stroke="#000" stroke-width="1.6"/>
<rect x="300.45" y="812.65" width="7.7" height="7.7" fill="#fff" stroke="#000" stroke-width="1.6"/>
<rect x="330.45" y="814.95" width="7.7" height="7.7" fill="#fff" stroke="#000" stroke-width="1.6"/>
<text transform="translate(197.8,732.7) rotate(-90)" font-size="16.5" text-anchor="middle">% specific<tspan font-size="11" dx="1.6" dy="-12.6">51</tspan><tspan dx="2" dy="12.6">Cr-release</tspan></text>
<text x="369.5" y="867" font-size="16.7" text-anchor="middle" >dilution of standard culture</text>
<text x="358.2" y="614.9" font-size="32">H</text>
<text x="450.5" y="614.7" font-size="16.5" text-anchor="middle" >MC-GP</text>
<text x="452.65" y="632.8" font-size="16.7" text-anchor="middle" >Imatinib 50/100</text>
<rect x="398.7" y="637.0" width="108.30" height="189.00" fill="none" stroke="#111" stroke-width="1.4"/>
<line x1="394.5" y1="826.00" x2="398.7" y2="826.00" stroke="#111" stroke-width="1.4"/>
<text x="391.5" y="832.20" font-size="16" text-anchor="end">0</text>
<line x1="394.5" y1="791.60" x2="398.7" y2="791.60" stroke="#111" stroke-width="1.4"/>
<text x="391.5" y="797.80" font-size="16" text-anchor="end">20</text>
<line x1="394.5" y1="757.20" x2="398.7" y2="757.20" stroke="#111" stroke-width="1.4"/>
<text x="391.5" y="763.40" font-size="16" text-anchor="end">40</text>
<line x1="394.5" y1="722.80" x2="398.7" y2="722.80" stroke="#111" stroke-width="1.4"/>
<text x="391.5" y="729.00" font-size="16" text-anchor="end">60</text>
<line x1="394.5" y1="688.40" x2="398.7" y2="688.40" stroke="#111" stroke-width="1.4"/>
<text x="391.5" y="694.60" font-size="16" text-anchor="end">80</text>
<line x1="394.5" y1="654.00" x2="398.7" y2="654.00" stroke="#111" stroke-width="1.4"/>
<text x="391.5" y="660.20" font-size="16" text-anchor="end">100</text>
<line x1="407.0" y1="826.0" x2="407.0" y2="829.8" stroke="#111" stroke-width="1.3"/>
<line x1="437.0" y1="826.0" x2="437.0" y2="829.8" stroke="#111" stroke-width="1.3"/>
<line x1="467.7" y1="826.0" x2="467.7" y2="829.8" stroke="#111" stroke-width="1.3"/>
<line x1="497.7" y1="826.0" x2="497.7" y2="829.8" stroke="#111" stroke-width="1.3"/>
<text x="401.4" y="843.8" font-size="16" text-anchor="middle" >1:1</text>
<text x="433.4" y="843.8" font-size="16" text-anchor="middle" >1:3</text>
<text x="466.6" y="843.8" font-size="16" text-anchor="middle" >1:9</text>
<text x="502.6" y="843.8" font-size="16" text-anchor="middle" >1:27</text>
<line x1="407" y1="669.2" x2="407" y2="682.6" stroke="#000" stroke-width="1.4"/>
<line x1="403.0" y1="669.2" x2="411.0" y2="669.2" stroke="#000" stroke-width="1.4"/>
<line x1="403.0" y1="682.6" x2="411.0" y2="682.6" stroke="#000" stroke-width="1.4"/>
<line x1="407" y1="718.8" x2="407" y2="731.5" stroke="#000" stroke-width="1.4"/>
<line x1="403.0" y1="718.8" x2="411.0" y2="718.8" stroke="#000" stroke-width="1.4"/>
<line x1="403.0" y1="731.5" x2="411.0" y2="731.5" stroke="#000" stroke-width="1.4"/>
<line x1="437" y1="681.2" x2="437" y2="705.7" stroke="#000" stroke-width="1.4"/>
<line x1="433.0" y1="681.2" x2="441.0" y2="681.2" stroke="#000" stroke-width="1.4"/>
<line x1="433.0" y1="705.7" x2="441.0" y2="705.7" stroke="#000" stroke-width="1.4"/>
<line x1="437" y1="705.7" x2="437" y2="732.2" stroke="#000" stroke-width="1.4"/>
<line x1="433.0" y1="705.7" x2="441.0" y2="705.7" stroke="#000" stroke-width="1.4"/>
<line x1="433.0" y1="732.2" x2="441.0" y2="732.2" stroke="#000" stroke-width="1.4"/>
<line x1="467.7" y1="730.9" x2="467.7" y2="755.4" stroke="#000" stroke-width="1.4"/>
<line x1="463.7" y1="730.9" x2="471.7" y2="730.9" stroke="#000" stroke-width="1.4"/>
<line x1="463.7" y1="755.4" x2="471.7" y2="755.4" stroke="#000" stroke-width="1.4"/>
<line x1="497.7" y1="769.2" x2="497.7" y2="784.2" stroke="#000" stroke-width="1.4"/>
<line x1="493.7" y1="769.2" x2="501.7" y2="769.2" stroke="#000" stroke-width="1.4"/>
<line x1="493.7" y1="784.2" x2="501.7" y2="784.2" stroke="#000" stroke-width="1.4"/>
<polyline points="407,675.7 437,693.5 467.7,739.2 497.7,777.3" fill="none" stroke="#000" stroke-width="1.75" stroke-linejoin="round"/>
<polyline points="407,725.0 437,718.8 467.7,742.7 497.7,778" fill="none" stroke="#000" stroke-width="1.75" stroke-linejoin="round"/>
<rect x="403.60" y="672.30" width="6.8" height="6.8" fill="#000" stroke="#000" stroke-width="1.2"/>
<rect x="433.60" y="690.10" width="6.8" height="6.8" fill="#000" stroke="#000" stroke-width="1.2"/>
<rect x="464.30" y="735.80" width="6.8" height="6.8" fill="#000" stroke="#000" stroke-width="1.2"/>
<rect x="494.30" y="773.90" width="6.8" height="6.8" fill="#000" stroke="#000" stroke-width="1.2"/>
<circle cx="407" cy="725.0" r="3.4" fill="#000" stroke="#000" stroke-width="1.2"/>
<circle cx="437" cy="718.8" r="3.4" fill="#000" stroke="#000" stroke-width="1.2"/>
<circle cx="467.7" cy="742.7" r="3.4" fill="#000" stroke="#000" stroke-width="1.2"/>
<circle cx="497.7" cy="778" r="3.4" fill="#000" stroke="#000" stroke-width="1.2"/>
<line x1="467.7" y1="795.1" x2="467.7" y2="804.3" stroke="#000" stroke-width="1.4"/>
<line x1="463.7" y1="795.1" x2="471.7" y2="795.1" stroke="#000" stroke-width="1.4"/>
<line x1="463.7" y1="804.3" x2="471.7" y2="804.3" stroke="#000" stroke-width="1.4"/>
<polyline points="407,821.9 437,817.2 467.7,804.3 497.7,815.8" fill="none" stroke="#000" stroke-width="1.75" stroke-linejoin="round"/>
<polyline points="407,818.8 437,817.2 467.7,813.5 497.7,813.5" fill="none" stroke="#000" stroke-width="1.75" stroke-linejoin="round"/>
<circle cx="407" cy="818.8" r="3.75" fill="#fff" stroke="#000" stroke-width="1.6"/>
<circle cx="437" cy="817.2" r="3.75" fill="#fff" stroke="#000" stroke-width="1.6"/>
<circle cx="467.7" cy="813.5" r="3.75" fill="#fff" stroke="#000" stroke-width="1.6"/>
<circle cx="497.7" cy="813.5" r="3.75" fill="#fff" stroke="#000" stroke-width="1.6"/>
<rect x="403.15" y="818.05" width="7.7" height="7.7" fill="#fff" stroke="#000" stroke-width="1.6"/>
<rect x="433.15" y="813.35" width="7.7" height="7.7" fill="#fff" stroke="#000" stroke-width="1.6"/>
<rect x="463.85" y="800.45" width="7.7" height="7.7" fill="#fff" stroke="#000" stroke-width="1.6"/>
<rect x="493.85" y="811.95" width="7.7" height="7.7" fill="#fff" stroke="#000" stroke-width="1.6"/>
</svg></body></html>
